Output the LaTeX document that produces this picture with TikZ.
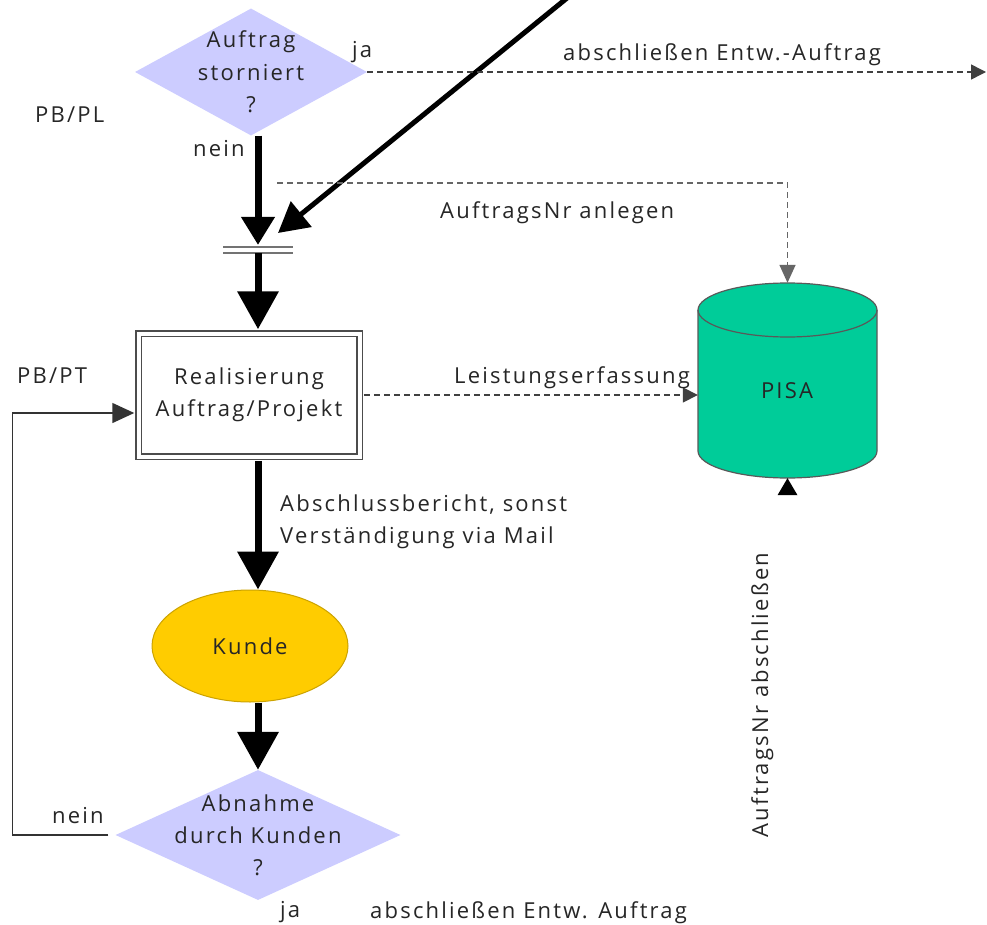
\documentclass[tikz,border=0pt]{standalone}
\usepackage{fontspec}
\setmainfont{Open Sans}[LetterSpace=10]
\usetikzlibrary{arrows.meta,shapes.geometric}
\definecolor{lav}{RGB}{204,204,255}
\definecolor{pisagreen}{RGB}{0,204,153}
\definecolor{kundegold}{RGB}{255,204,0}
\tikzset{
  every node/.style={inner sep=0pt, text=black!85},
  decision/.style={diamond, fill=lav},
  dtext/.style={align=center, text=black!85},
  procbox/.style={draw=black!70, line width=1.5pt, double, double distance=4pt, align=center},
  bigarrow/.style={line width=7pt, -{Triangle[width=40pt,length=38pt]}},
  dashline/.style={line width=1.5pt, dash pattern=on 6pt off 4pt, draw=black!75},
  smalltip/.style={-{Triangle[width=15pt,length=15pt]}},
  lbl/.style={anchor=base west}
}
\begin{document}
\begin{tikzpicture}[x=1pt,y=-1pt,font=\fontsize{22}{32.5}\selectfont]
\useasboundingbox (0,0) rectangle (987,925);
\clip (0,0) rectangle (987,925);
\fill[white] (0,0) rectangle (987,925);

% shapes
\node[decision, minimum width=232, minimum height=127,
      label={[dtext, font=\fontsize{22}{32.5}\selectfont]center:Auftrag\\storniert\\?}] (d1) at (251,72) {};
\coordinate (bar) at (258,250);
\node[procbox, minimum width=221, minimum height=123] (box) at (249,395) {Realisierung\\Auftrag/Projekt};
\node[ellipse, fill=kundegold, draw=kundegold!80!black, line width=1pt, minimum width=196, minimum height=112] (kunde) at (250,646) {Kunde};
\node[decision, minimum width=285, minimum height=130,
      label={[dtext, font=\fontsize{22}{32}\selectfont]center:Abnahme\\durch Kunden\\?}] (d2) at (258,835) {};

% PISA cylinder
\filldraw[fill=pisagreen, draw=black!65, line width=1.2pt]
  (698,310) -- (698,451) arc (180:360:89.5pt and 27pt) -- (877,310) arc (0:180:89.5pt and 27pt) -- cycle;
\draw[black!65, line width=1.2pt] (698,310) arc (180:360:89.5pt and 27pt);
\node[minimum width=179, minimum height=195] (pisa) at (787.5,380.5) {};
\node (pisatxt) at (787,391) {PISA};

% gate bar
\draw[black!55, line width=1.5pt] ([xshift=-35pt,yshift=3pt]bar) -- ([xshift=35pt,yshift=3pt]bar);
\draw[black!55, line width=1.5pt] ([xshift=-35pt,yshift=-3pt]bar) -- ([xshift=35pt,yshift=-3pt]bar);

% thick flow
\draw[line width=7pt, -{Triangle[width=32pt,length=28pt]}] (d1.south -| bar) -- ([yshift=5pt]bar);
\draw[bigarrow] ([yshift=-3pt]bar) -- ([yshift=3.5pt]box.north -| bar);
\draw[bigarrow] ([yshift=-3.5pt]box.south -| bar) -- (kunde.north -| bar);
\draw[bigarrow] (kunde.south -| bar) -- (d2.north);

% diagonal incoming
\coordinate (diagstart) at (572,-6);
\draw[line width=5pt, -{Triangle[width=32pt,length=30pt]}] (diagstart) -- ([xshift=20pt,yshift=17pt]bar);

% dashed connectors
\coordinate (jaend) at (986,72);
\draw[dashline, smalltip] (d1.east) -- (jaend);
\coordinate (anl) at (277,183);
\draw[dashline, draw=black!60, -{Triangle[width=16pt,length=18pt]}] (anl) -| (pisa.north);
\draw[dashline, smalltip] ([xshift=3.5pt]box.east) -- (box.east -| pisa.west);

% feedback loop
\draw[black!80, line width=1.5pt, -{Triangle[width=20pt,length=22pt]}]
  ([xshift=-7pt]d2.west) -- ++(-96,0) |- ([xshift=-3.5pt,yshift=-18pt]box.west);

% arrowhead under PISA
\fill[black] (pisa.south) -- ++(-10,17) -- ++(20,0) -- cycle;

% labels
\node[lbl] (ja1) at (352,58) {ja};
\node[lbl] (abs1) at (563,61) {abschließen Entw.-Auftrag};
\node[lbl] (pbpl) at (35,123) {PB/PL};
\node[lbl] (nein1) at (193,157) {nein};
\node[lbl] (anltxt) at (440,219) {AuftragsNr anlegen};
\node[anchor=base east] (leist) at (690,383) {Leistungserfassung};
\node[lbl] (pbpt) at (17,383) {PB/PT};
\node[anchor=west, align=left] (absber) at (280,522) {Abschlussbericht, sonst\\Verständigung via Mail};
\node[lbl] (nein2) at (52,823) {nein};
\node[lbl] (ja2) at (280,917) {ja};
\node[lbl] (abs2) at (370,918) {abschließen Entw. Auftrag};
\node[rotate=90, anchor=base] (absnr) at (768,695) {AuftragsNr abschließen};
\end{tikzpicture}
\end{document}
